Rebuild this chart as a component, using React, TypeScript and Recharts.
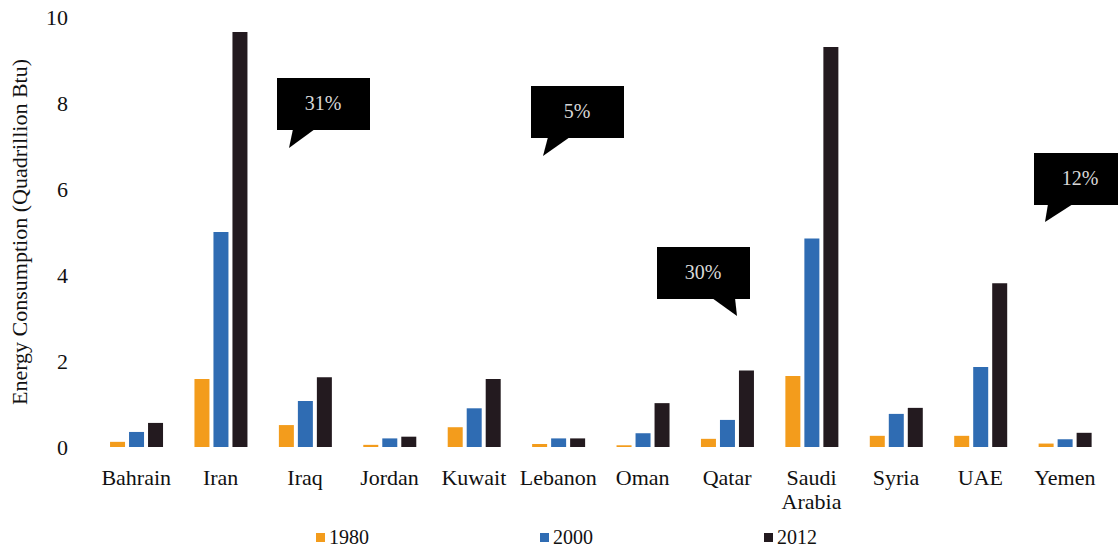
import { Bar, BarChart, Legend, XAxis, YAxis } from "recharts";

const countries = [
  "Bahrain", "Iran", "Iraq", "Jordan", "Kuwait", "Lebanon",
  "Oman", "Qatar", "Saudi Arabia", "Syria", "UAE", "Yemen",
];
const y1980 = [0.12, 1.58, 0.51, 0.05, 0.46, 0.07, 0.04, 0.19, 1.65, 0.26, 0.26, 0.08];
const y2000 = [0.35, 5.0, 1.07, 0.2, 0.9, 0.2, 0.32, 0.63, 4.85, 0.77, 1.86, 0.18];
const y2012 = [0.56, 9.65, 1.62, 0.24, 1.58, 0.2, 1.02, 1.78, 9.3, 0.91, 3.81, 0.33];
const yTicks = [0, 2, 4, 6, 8, 10];

const series = [
  { key: "a", name: "1980", color: "#f39c1c" },
  { key: "b", name: "2000", color: "#2f6cb3" },
  { key: "c", name: "2012", color: "#231a1f" },
];

// speech-bubble annotations: [label, box x, box y, tail base x1, x2, tip x, tip y]
const callouts: [string, number, number, number, number, number, number][] = [
  ["31%", 277, 78, 293, 315, 289, 148],
  ["5%", 531, 86, 548, 570, 543, 156],
  ["30%", 657, 247, 712, 735, 737, 316],
  ["12%", 1034, 153, 1048, 1073, 1045, 222],
];

const data = countries.map((c, i) => ({
  name: c,
  a: y1980[i],
  b: y2000[i],
  c: y2012[i],
}));

const FONT = "'Liberation Serif', 'Times New Roman', serif";

// multi-word country names go on two lines, like "Saudi / Arabia"
function CountryTick(props: any) {
  const { x, y, payload } = props;
  const words = String(payload.value).split(" ");
  return (
    <text x={x} y={y} textAnchor="middle" fontSize={22} fontFamily={FONT} fill="#111">
      {words.map((w, i) => (
        <tspan key={i} x={x} dy={i === 0 ? "0.71em" : "1.12em"}>
          {w}
        </tspan>
      ))}
    </text>
  );
}

function YearLegend() {
  return (
    <div style={{ position: "relative", height: 30, fontFamily: FONT, fontSize: 20, color: "#111" }}>
      {series.map((s, i) => (
        <div
          key={s.key}
          style={{ position: "absolute", left: 316 + i * 224, top: 8, display: "flex", alignItems: "center" }}
        >
          <span style={{ width: 9, height: 9, background: s.color, marginRight: 4, display: "inline-block" }} />
          <span>{s.name}</span>
        </div>
      ))}
    </div>
  );
}

export default function App() {
  return (
    <div style={{ position: "relative", width: 1118, height: 548, background: "#fff" }}>
      <style>{`body{margin:0}`}</style>
      <BarChart
        width={1118}
        height={548}
        data={data}
        margin={{ top: 17, right: 11, bottom: 0, left: 0 }}
        barCategoryGap="19%"
        barGap={4}
      >
        <XAxis
          dataKey="name"
          tickLine={false}
          axisLine={false}
          tick={<CountryTick />}
          tickMargin={16}
          interval={0}
          height={71}
        />
        <YAxis
          domain={[0, 10]}
          ticks={yTicks}
          width={94}
          tickLine={false}
          axisLine={false}
          tickMargin={20}
          tick={{ fontSize: 22, fontFamily: FONT, fill: "#111" }}
          label={{
            value: "Energy Consumption (Quadrillion Btu)",
            angle: -90,
            position: "insideLeft",
            dx: 14,
            style: { textAnchor: "middle", fontSize: 22, fontFamily: FONT, fill: "#111" },
          }}
        />
        <Legend
          verticalAlign="bottom"
          content={<YearLegend />}
          wrapperStyle={{ left: 0, width: 1118 }}
        />
        {series.map((s) => (
          <Bar key={s.key} dataKey={s.key} name={s.name} fill={s.color} isAnimationActive={false} />
        ))}
      </BarChart>
      <svg
        width={1118}
        height={548}
        style={{ position: "absolute", left: 0, top: 0, pointerEvents: "none" }}
      >
        {callouts.map(([label, bx, by, t1, t2, tx, ty]) => (
          <g key={label}>
            <rect x={bx} y={by} width={93} height={52} fill="#000" />
            <polygon points={`${t1},${by + 51} ${t2},${by + 51} ${tx},${ty}`} fill="#000" />
            <text
              x={bx + 46}
              y={by + 27}
              textAnchor="middle"
              dominantBaseline="middle"
              fontSize={20}
              fontFamily={FONT}
              fill="#d8d8d8"
            >
              {label}
            </text>
          </g>
        ))}
      </svg>
    </div>
  );
}
